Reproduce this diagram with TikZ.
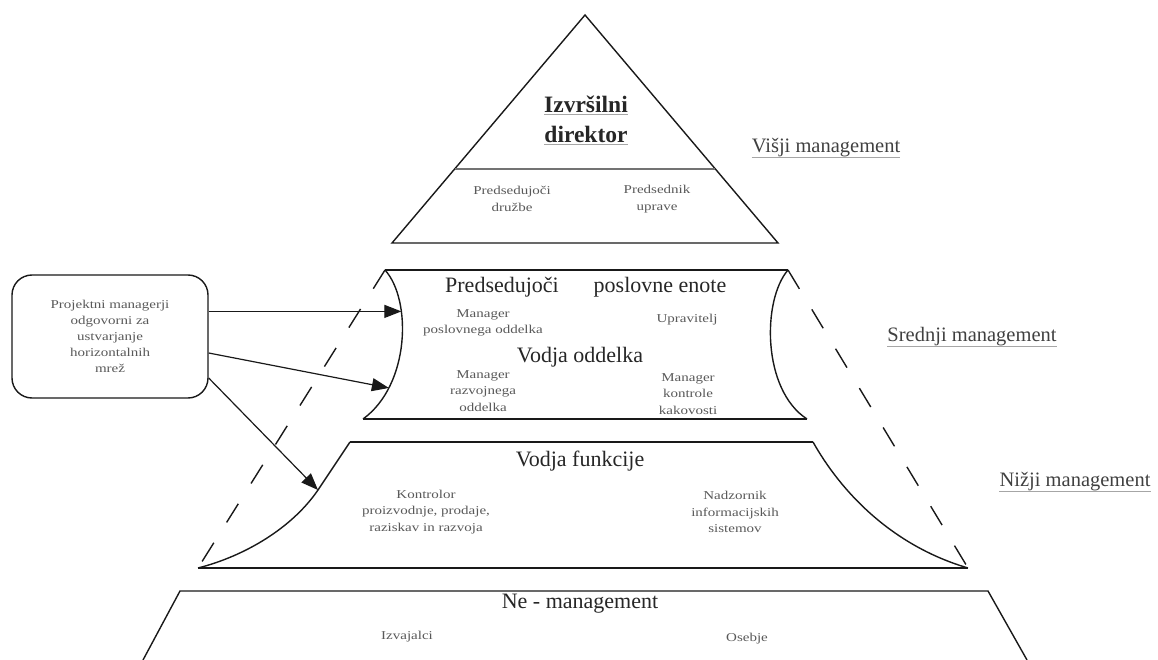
\documentclass[tikz,border=0pt]{standalone}
\usepackage{fontspec}
\setmainfont{Liberation Serif}
\newfontfamily\smallfnt[FakeStretch=1.25]{Liberation Serif}
\usetikzlibrary{arrows.meta}
\begin{document}
\begin{tikzpicture}[x=1pt,y=-1pt,
  outline/.style={line width=1.4pt, draw=black!90},
  divline/.style={line width=1.8pt, draw=black!55},
  dashline/.style={line width=1.4pt, draw=black!90, dash pattern=on 22pt off 24pt},
  arrowline/.style={line width=1.2pt, draw=black!90, -{Triangle[length=17pt,width=13pt]}},
  small/.style={inner sep=0pt, align=center, text=black!65, font=\smallfnt\fontsize{12}{16.5}\selectfont},
  big/.style={inner sep=0pt, text=black!85, font=\fontsize{22}{25}\selectfont},
  title/.style={inner sep=0pt, text=black!85, font=\bfseries\fontsize{23.5}{26}\selectfont},
  level/.style={inner sep=0pt, text=black!75, font=\fontsize{20.5}{24}\selectfont},
  ul/.style={line width=1.2pt, draw=black!35},
  pmbox/.style={draw=black!90, line width=1.4pt, rounded corners=20pt, minimum width=196pt, minimum height=123pt, inner sep=0pt, align=center, text=black!65, font=\smallfnt\fontsize{12}{16}\selectfont}
]
\useasboundingbox (0,0) rectangle (1158,660);

% ---------- top triangle ----------
\coordinate (apex) at (585,15);
\coordinate (tbl) at (392,243);
\coordinate (tbr) at (778,243);
\draw[outline] (apex) -- (tbl) -- (tbr) -- cycle;
\path (apex) -- (tbl) coordinate[pos=0.675] (dl);
\path (apex) -- (tbr) coordinate[pos=0.675] (dr);
\draw[divline] (dl) -- (dr);

\node[title] (izv) at (586,104) {Izvršilni};
\node[title] (dir) at (586,134) {direktor};
\draw[ul] ([yshift=-2pt]izv.south west) -- ([yshift=-2pt]izv.south east);
\draw[ul] ([yshift=-2pt]dir.south west) -- ([yshift=-2pt]dir.south east);

\node[small] (pdr) at (512,199) {Predsedujoči\\družbe};
\node[small] (pup) at (657,199) {Predsednik\\uprave};

\node[level] (visji) at (826,148) {Višji management};
\draw[ul] (visji.south west) -- (visji.south east);

% ---------- middle box ----------
\coordinate (mtl) at (385,270);
\coordinate (mtr) at (788,270);
\coordinate (mbl) at (363,419);
\coordinate (mbr) at (807,419);
\draw[outline] (mtl) -- (mtr);
\draw[outline] (mbl) -- (mbr);
\draw[outline] (mtl) .. controls (412,300) and (410,385) .. (mbl)
   coordinate[pos=0.315] (m1) coordinate[pos=0.765] (m2);
\draw[outline] (mtr) .. controls (762,300) and (762,390) .. (mbr);

\node[big] (pred) at (502,287) {Predsedujoči};
\node[big] (posl) at (660,287) {poslovne enote};
\node[small] (mpo) at (483,323) {Manager\\poslovnega oddelka};
\node[small] (upr) at (687,320) {Upravitelj};
\node[big] (vod) at (580,357) {Vodja oddelka};
\node[small] (mro) at (483,391) {Manager\\razvojnega\\oddelka};
\node[small] (mkk) at (688,394) {Manager\\kontrole\\kakovosti};

\node[level] (sred) at (972,337) {Srednji management};
\draw[ul] (sred.south west) -- (sred.south east);

% ---------- third box ----------
\coordinate (ftl) at (350,442);
\coordinate (ftr) at (813,442);
\coordinate (fbl) at (198,568);
\coordinate (fbr) at (968,568);
\draw[outline] (ftl) -- (ftr);
\draw[outline] (fbl) -- (fbr);
\draw[outline] (ftl) -- (318,490) coordinate (f1) .. controls (292,528) and (245,556) .. (fbl);
\draw[outline] (ftr) .. controls (840,490) and (890,545) .. (fbr);

\node[big] (vf) at (580,461) {Vodja funkcije};
\node[small] (kon) at (426,512) {Kontrolor\\proizvodnje, prodaje,\\raziskav in razvoja};
\node[small] (nad) at (735,512) {Nadzornik\\informacijskih\\sistemov};

\node[level] (nizji) at (1075,482) {Nižji management};
\draw[ul] (nizji.south west) -- (nizji.south east);

% ---------- dashed lines ----------
\draw[dashline] (mtl) -- (fbl);
\draw[dashline] (mtr) -- (fbr);

% ---------- bottom box ----------
\coordinate (ntl) at (180,591);
\coordinate (ntr) at (988,591);
\coordinate (nbl) at (143,660);
\coordinate (nbr) at (1027,660);
\draw[outline] (nbl) -- (ntl) -- (ntr) -- (nbr);
\node[big] (ne) at (580,604) {Ne - management};
\node[small] (izvaj) at (407,637) {Izvajalci};
\node[small] (oseb) at (747,639) {Osebje};

% ---------- project managers ----------
\node[pmbox] (pm) at (110,336.5) {Projektni managerji\\odgovorni za\\ustvarjanje\\horizontalnih\\mrež};
\draw[arrowline] (pm.east |- m1) -- (m1);
\draw[arrowline] ([yshift=-16.5pt]pm.east) -- (m2);
\draw[arrowline] ([yshift=-41.5pt]pm.east) -- (f1);
\end{tikzpicture}
\end{document}
